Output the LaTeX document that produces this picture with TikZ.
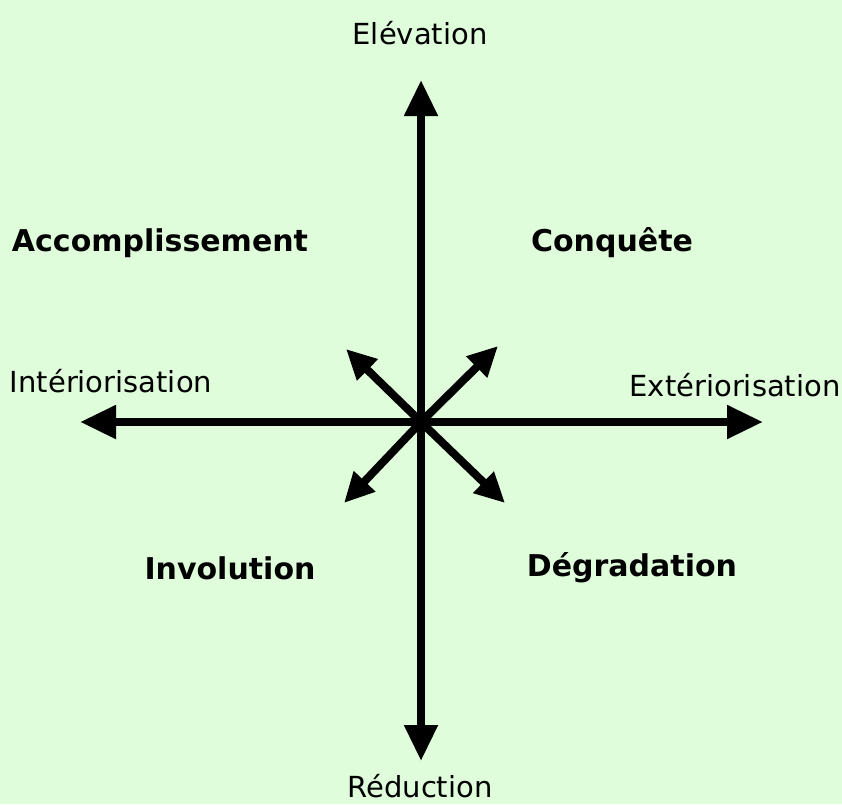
\documentclass[tikz,border=0pt]{standalone}
\usepackage{fontspec}
\setmainfont{DejaVu Sans}
\definecolor{FondVert}{RGB}{223, 252, 219}
\usetikzlibrary{arrows.meta, positioning}

\begin{document}
\begin{tikzpicture}[
    x=1pt, y=-1pt,
    axe/.style={line width=8pt, -{Triangle[length=36pt, width=32pt]}},
    diag/.style={line width=8pt, -{Triangle[length=30pt, width=28pt]}},
    pole/.style={font=\fontsize{29}{32}\selectfont, inner sep=0pt},
    zone/.style={font=\fontsize{30}{33}\selectfont\bfseries, inner sep=0pt}
]
\useasboundingbox[fill=FondVert] (0,0) rectangle (842,804);
% centre et extremites des fleches
\coordinate (O) at (421,422);
\coordinate (haut) at (421,80);
\coordinate (bas) at (421,761);
\coordinate (gauche) at (80,422);
\coordinate (droite) at (763,422);
\coordinate (hg) at (346,349);
\coordinate (hd) at (498,346);
\coordinate (bg) at (344,503);
\coordinate (bd) at (505,503);
% libelles des axes
\node[pole] (elev) at (420,33) {Elévation};
\node[pole] (redu) at (420,786) {Réduction};
\node[pole] (inte) at (111,381) {Intériorisation};
\node[pole] (exte) at (735,385) {Extériorisation};
% libelles des quadrants
\node[zone] (acco) at (160,243) {Accomplissement};
\node[zone] (conq) at (612,243) {Conquête};
\node[zone] (invo) at (230,568) {Involution};
\node[zone] (degr) at (632,568) {Dégradation};
% fleches
\draw[axe] (O) -- (haut);
\draw[axe] (O) -- (bas);
\draw[axe] (O) -- (gauche);
\draw[axe] (O) -- (droite);
\draw[diag] (O) -- (hg);
\draw[diag] (O) -- (hd);
\draw[diag] (O) -- (bg);
\draw[diag] (O) -- (bd);
\end{tikzpicture}
\end{document}
